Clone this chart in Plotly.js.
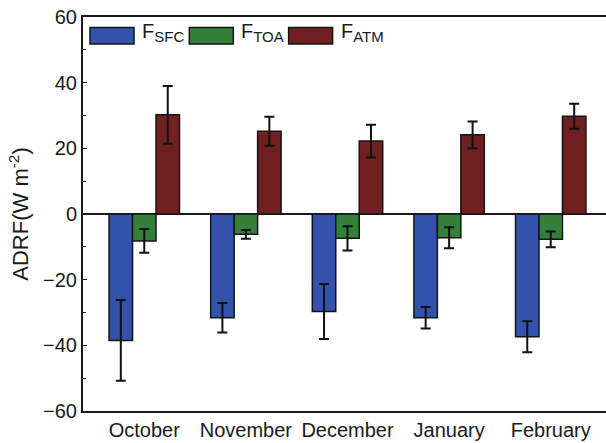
<!DOCTYPE html>
<html>
<head>
<meta charset="utf-8">
<script src="https://cdn.plot.ly/plotly-3.0.1.min.js"></script>
<style>
html, body { margin: 0; padding: 0; overflow: hidden; background: #fff; width: 606px; height: 443px; }
#chart { width: 620px; height: 443px; }
</style>
</head>
<body>
<div id="chart"></div>
<script>
// ---- data ----
var categories = ['October', 'November', 'December', 'January', 'February'];
var seriesSubs = ['SFC', 'TOA', 'ATM'];
var fSFC = [-38.5, -31.6, -29.7, -31.6, -37.4];
var errSFC = [12.3, 4.5, 8.4, 3.3, 4.7];
var fTOA = [-8.2, -6.2, -7.4, -7.2, -7.7];
var errTOA = [3.6, 1.3, 3.7, 3.2, 2.4];
var fATM = [30.2, 25.2, 22.2, 24.1, 29.8];
var errATM = [8.8, 4.4, 5.0, 4.1, 3.8];
var yTicks = [-60, -40, -20, 0, 20, 40, 60];

// ---- styling ----
var colors = ['#3352ab', '#34803a', '#702020'];
var font = 'Liberation Sans, Arial, sans-serif';
var ink = '#1a1a1a';
var yMin = -60, yMax = 60;
var xRange = [-0.603, 4.603];
var catIdx = categories.map(function (c, i) { return i; });
var seriesLabels = seriesSubs.map(function (s) {
  return 'F<sub><span style="font-size:15px">' + s + '</span></sub>';
});

var values = [fSFC, fTOA, fATM];
var errs = [errSFC, errTOA, errATM];
var traces = values.map(function (v, k) {
  return {
    type: 'bar', x: catIdx, y: v, name: 'F' + seriesSubs[k],
    marker: { color: colors[k], line: { color: '#141414', width: 1.5 } },
    error_y: { type: 'data', array: errs[k], visible: true, color: '#111', thickness: 2, width: 5 },
    hoverinfo: 'skip'
  };
});

// ---- custom legend (wide swatches) ----
var mL = 83, mT = 17, plotW = 529, plotH = 394;
function px2x(p) { return (p - mL) / plotW; }
function py2y(p) { return (mT + plotH - p) / plotH; }
var shapes = [], annotations = [];
var legStart = 90, legStep = 99.3, swW = 44, swTop = 27.5, swBot = 44;
seriesLabels.forEach(function (lab, k) {
  var x0 = legStart + k * legStep;
  shapes.push({ type: 'rect', xref: 'paper', yref: 'paper',
    x0: px2x(x0), x1: px2x(x0 + swW), y0: py2y(swBot), y1: py2y(swTop),
    fillcolor: colors[k], line: { color: '#141414', width: 1.5 } });
  annotations.push({ xref: 'paper', yref: 'paper', x: px2x(x0 + swW + 6), y: py2y(47),
    xanchor: 'left', yanchor: 'bottom', showarrow: false, text: lab,
    font: { family: font, size: 20, color: ink } });
});

var zeroPos = (0 - yMin) / (yMax - yMin);

var layout = {
  width: 620, height: 443,
  margin: { l: mL, r: 620 - mL - plotW, t: mT, b: 443 - mT - plotH, pad: 0 },
  paper_bgcolor: '#fff', plot_bgcolor: '#fff',
  showlegend: false,
  barmode: 'group', bargap: 0.307, bargroupgap: 0,
  font: { family: font, color: ink },
  xaxis: {
    range: xRange, tickvals: catIdx, ticktext: categories,
    ticks: '', showline: true, linewidth: 2, linecolor: ink, mirror: true,
    showgrid: false, zeroline: false,
    tickfont: { family: font, size: 20, color: ink }
  },
  xaxis2: {
    overlaying: 'x', anchor: 'y', side: 'bottom', range: [0, 10], tick0: 0, dtick: 1,
    ticks: 'inside', ticklen: 4, tickwidth: 1, tickcolor: '#444', mirror: 'ticks',
    showline: false, showgrid: false, zeroline: false, showticklabels: false
  },
  xaxis3: {
    overlaying: 'x', anchor: 'free', position: zeroPos, side: 'top', range: xRange,
    tickvals: catIdx, ticks: 'outside', ticklen: 6, tickwidth: 1.5, tickcolor: ink,
    showline: false, showgrid: false, zeroline: false, showticklabels: false
  },
  yaxis: {
    range: [yMin, yMax], tickvals: yTicks, ticks: 'inside', ticklen: 4, tickwidth: 1.5, tickcolor: ink,
    minor: { ticks: 'inside', ticklen: 3, tickwidth: 1, tickcolor: ink, dtick: 10, tick0: 0 },
    showline: true, linewidth: 2, linecolor: ink, mirror: false,
    showgrid: false, zeroline: true, zerolinewidth: 1.5, zerolinecolor: ink,
    tickfont: { family: font, size: 20, color: ink },
    title: { text: 'ADRF(W m<sup>-2</sup>)\u00a0\u00a0', font: { family: font, size: 22, color: ink }, standoff: 8 }
  },
  shapes: shapes,
  annotations: annotations
};

Plotly.newPlot('chart', traces, layout, { staticPlot: true, displayModeBar: false });
</script>
</body>
</html>
